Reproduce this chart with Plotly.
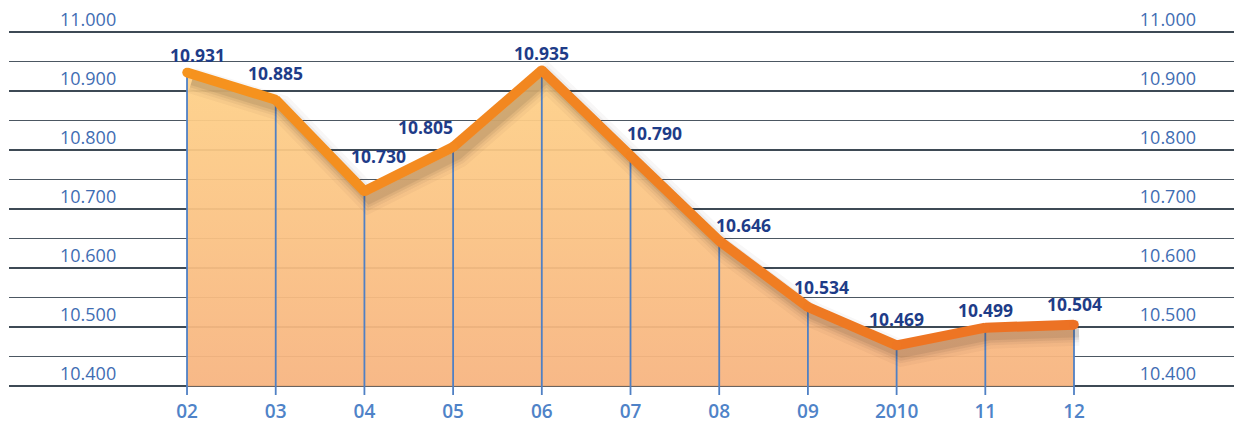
import plotly.graph_objects as go

categories = ["02", "03", "04", "05", "06", "07", "08", "09", "2010", "11", "12"]
values = [10.931, 10.885, 10.730, 10.805, 10.935, 10.790, 10.646, 10.534, 10.469, 10.499, 10.504]
y_ticks = [10.4, 10.5, 10.6, 10.7, 10.8, 10.9, 11.0]
y_tick_labels = ["10.400", "10.500", "10.600", "10.700", "10.800", "10.900", "11.000"]
y_minor_ticks = [10.45, 10.55, 10.65, 10.75, 10.85, 10.95]

# label offsets (pixels) for data labels
label_dx = [10, 0, 14, -28, 0, 24, 24, 14, 0, 0, 0]
label_dy = [18, 27, 35, 20, 17, 23, 16, 20, 26, 18, 21]

Y_FLOOR = 10.4
X_RANGE = [-2.007, 11.894]
Y_RANGE = [10.385, 11.037]
# shadow offset in data units (~5px right, ~8px down)
SDX = 5 / 88.7
SDY = 8 / 590.0

xs = list(range(len(categories)))


def mix(c1, c2, t):
    return "#%02x%02x%02x" % tuple(round(a + (b - a) * t) for a, b in zip(c1, c2))


LINE_START = (246, 148, 30)
LINE_END = (236, 112, 36)

fig = go.Figure()

# baseline for fill
fig.add_trace(go.Scatter(x=xs, y=[Y_FLOOR] * len(xs), mode="lines",
                         line=dict(width=0, color="rgba(0,0,0,0)"),
                         hoverinfo="skip", showlegend=False))
# gradient fill
fig.add_trace(go.Scatter(
    x=xs, y=values, mode="lines", fill="tonexty",
    line=dict(width=0, color="rgba(0,0,0,0)"),
    fillgradient=dict(type="vertical",
                      colorscale=[[0, "rgba(247,180,128,0.94)"], [1, "rgba(254,209,136,0.94)"]],
                      start=Y_FLOOR, stop=max(values)),
    hoverinfo="skip", showlegend=False))
# vertical drop lines via error bars
fig.add_trace(go.Scatter(
    x=xs, y=values, mode="markers", marker=dict(size=0.1, color="rgba(0,0,0,0)"),
    error_y=dict(type="data", symmetric=False, array=[0] * len(xs),
                 arrayminus=[v - Y_RANGE[0] for v in values],
                 color="#5080c4", thickness=1.8, width=0),
    hoverinfo="skip", showlegend=False))

# shadow (overlay axes shifted)
for w, a in [(26, 0.035), (19, 0.05), (14, 0.07), (9, 0.09)]:
    fig.add_trace(go.Scatter(x=xs, y=values, mode="lines", xaxis="x2", yaxis="y3",
                             line=dict(width=w, color=f"rgba(50,40,30,{a})"),
                             hoverinfo="skip", showlegend=False))

# main line, coloured segment by segment (gradient along the line)
n = len(xs)
for i in range(n - 1):
    c = mix(LINE_START, LINE_END, (i + 0.5) / (n - 1))
    fig.add_trace(go.Scatter(x=xs[i:i + 2], y=values[i:i + 2], mode="lines",
                             xaxis="x3", yaxis="y4",
                             line=dict(width=10, color=c),
                             hoverinfo="skip", showlegend=False))
fig.add_trace(go.Scatter(x=xs, y=values, mode="markers", xaxis="x3", yaxis="y4",
                         marker=dict(size=9.5, line=dict(width=0),
                                     color=[mix(LINE_START, LINE_END, i / (n - 1)) for i in range(n)]),
                         hoverinfo="skip", showlegend=False))

# right-side tick labels axis
fig.add_trace(go.Scatter(x=[xs[0]], y=[values[0]], yaxis="y2", mode="markers",
                         marker=dict(size=0.1, color="rgba(0,0,0,0)"),
                         hoverinfo="skip", showlegend=False))

for i, (x, v) in enumerate(zip(xs, values)):
    fig.add_annotation(x=x, y=v, xref="x3", yref="y4", text=f"{v:.3f}", showarrow=False,
                       xshift=label_dx[i], yshift=label_dy[i],
                       font=dict(family="Open Sans", size=17.5, color="#1e3c88", weight=700))

tickfont_y = dict(family="Open Sans", size=18, color="#3f6db3")

fig.update_layout(
    width=1234, height=418,
    margin=dict(l=1, r=0, t=2, b=31, autoexpand=False),
    paper_bgcolor="white", plot_bgcolor="white",
    xaxis=dict(range=X_RANGE, tickvals=xs, ticktext=categories, showgrid=False,
               zeroline=False, showline=False, ticks="", automargin=False,
               ticklabelstandoff=3,
               tickfont=dict(family="Open Sans", size=19, color="#4f83c8", weight=600)),
    xaxis2=dict(range=[X_RANGE[0] - SDX, X_RANGE[1] - SDX], overlaying="x", visible=False),
    xaxis3=dict(range=X_RANGE, overlaying="x", visible=False),
    yaxis=dict(range=Y_RANGE, tickvals=y_ticks, ticktext=y_tick_labels,
               showgrid=True, gridcolor="#3e4a55", gridwidth=2,
               minor=dict(tickmode="array", tickvals=y_minor_ticks, showgrid=True,
                          gridcolor="#4c5762", gridwidth=1, ticks=""),
               zeroline=False, showline=False, ticks="", automargin=False,
               ticklabelposition="inside top", ticklabelstandoff=48,
               ticklabeloverflow="allow",
               tickfont=tickfont_y),
    yaxis2=dict(range=Y_RANGE, tickvals=y_ticks, ticktext=y_tick_labels, overlaying="y",
                side="right", showgrid=False, zeroline=False, showline=False, ticks="",
                automargin=False,
                ticklabelposition="inside top", ticklabelstandoff=43,
                ticklabeloverflow="allow",
                tickfont=tickfont_y),
    yaxis3=dict(range=[Y_RANGE[0] + SDY, Y_RANGE[1] + SDY], overlaying="y", visible=False),
    yaxis4=dict(range=Y_RANGE, overlaying="y", visible=False),
)

fig.write_html("out.html")
